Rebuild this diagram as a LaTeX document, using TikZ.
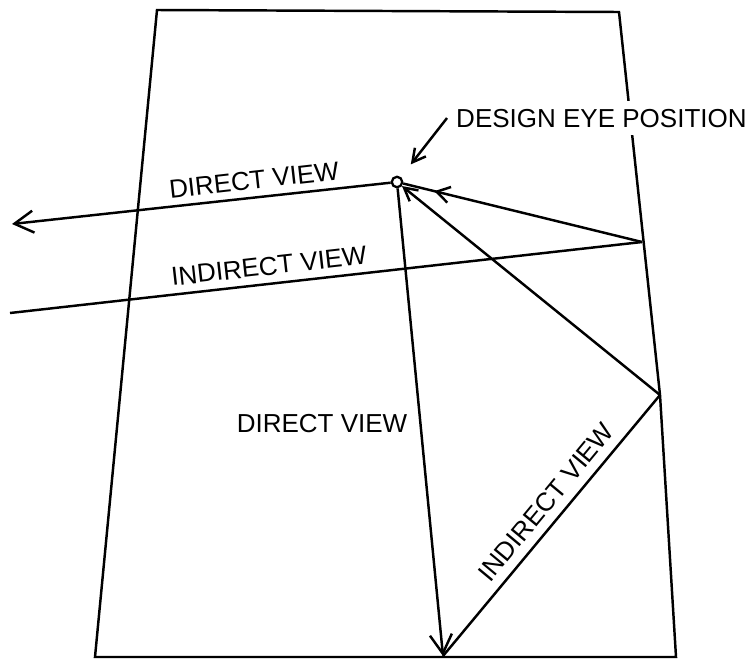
\documentclass[tikz,border=0pt]{standalone}
\usepackage{fontspec}
\setmainfont{Liberation Sans}
\usetikzlibrary{arrows.meta,decorations.markings}

\begin{document}
\begin{tikzpicture}[x=0.02cm,y=-0.02cm,line width=1.4pt,font=\fontsize{14.8}{17}\selectfont,
  bigtip/.style={-{Straight Barb[length=0.38cm,width=0.44cm]}},
  smalltip/.style={-{Straight Barb[length=0.26cm,width=0.28cm]}},
  midtip/.style={postaction={decorate},decoration={markings,
    mark=at position 0.87 with {\arrow{Straight Barb[length=0.26cm,width=0.32cm]}}}},
  lbl/.style={inner sep=0pt}]
 \useasboundingbox (0,0) rectangle (746,660);
 \coordinate (tl) at (157,10); \coordinate (tr) at (619,12);
 \coordinate (br) at (676,657); \coordinate (bl) at (95,657);
 \coordinate (r1) at (642,242); \coordinate (r2) at (660,395); \coordinate (bot) at (443,656);
 \coordinate (dvend) at (12,224); \coordinate (ivend) at (10,313);
 \draw (tl) -- (tr) -- (r2) -- (br) -- (bl) -- cycle;
 \node[draw,circle,inner sep=0pt,minimum size=0.21cm,line width=1.3pt] (eye) at (397,182) {};
 \draw[bigtip] (eye) -- (dvend);
 \draw (r1) -- (ivend);
 \draw[midtip] (r1) -- (eye);
 \draw[smalltip] (r2) -- (eye);
 \draw[bigtip] (eye) -- (bot);
 \draw (bot) -- (r2);
 \node[inner sep=0.16cm,anchor=base west,fill=white] (dep) at (447,127) {DESIGN EYE POSITION};
 \draw[smalltip,shorten >=0.32cm] (dep.west) -- (eye);
 \node[lbl,rotate=6.4] (dvtop) at (254,180) {DIRECT VIEW};
 \node[lbl,rotate=6.4] (ivtop) at (269,266) {INDIRECT VIEW};
 \node[lbl] (dvlow) at (322,424) {DIRECT VIEW};
 \node[lbl,rotate=50.3] (ivlow) at (546,502) {INDIRECT VIEW};
\end{tikzpicture}
\end{document}
